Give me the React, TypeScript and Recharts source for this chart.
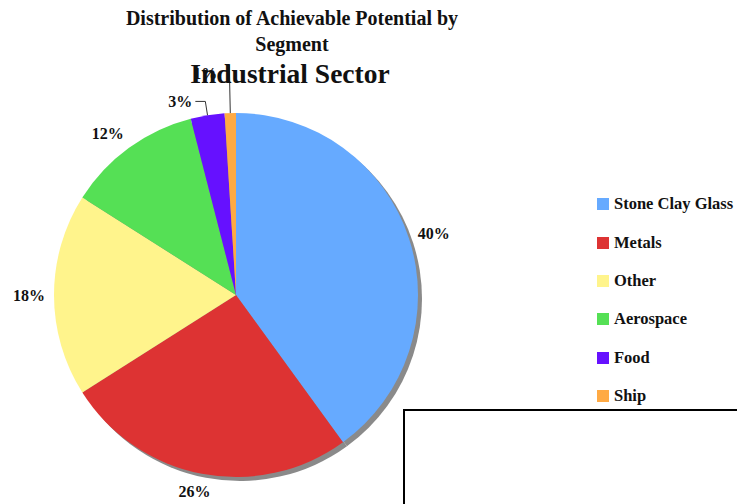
import React from 'react';
import { Cell, Pie, PieChart } from 'recharts';

// Share of achievable potential per segment (percent)
const segments = ['Stone Clay Glass', 'Metals', 'Other', 'Aerospace', 'Food', 'Ship'];
const shares = [40, 26, 18, 12, 3, 1];
const colors = ['#66aaff', '#dd3333', '#fff48c', '#55e055', '#6611ff', '#ffaa44'];

const titleLines = ['Distribution of Achievable Potential by', 'Segment'];
const subtitle = 'Industrial Sector';

const data = segments.map((name, i) => ({ name, value: shares[i] }));

const RADIAN = Math.PI / 180;
const FONT = '"Liberation Serif", "Times New Roman", serif';

function renderLabel(props: any) {
  const { cx, cy, midAngle, outerRadius, percent } = props;
  const cos = Math.cos(-midAngle * RADIAN);
  const sin = Math.sin(-midAngle * RADIAN);
  const text = `${Math.round(percent * 100)}%`;
  const edgeX = cx + outerRadius * cos;
  const edgeY = cy + outerRadius * sin;
  const textProps = { fontFamily: FONT, fontWeight: 'bold', fontSize: 16, fill: '#111', dominantBaseline: 'central' } as any;

  if (percent < 0.02) {
    // tiny slice: long vertical leader, text tucked to the left
    const topY = edgeY - 48;
    return (
      <g>
        <path d={`M${edgeX},${edgeY}L${edgeX - 1},${topY}`} stroke="#333" fill="none" />
        <text x={edgeX - 13} y={topY + 8} textAnchor="end" {...textProps}>{text}</text>
      </g>
    );
  }
  if (percent < 0.05) {
    const r = outerRadius + 14;
    const ex = cx + r * cos;
    const ey = cy + r * sin;
    const hx = ex - 10;
    return (
      <g>
        <path d={`M${edgeX},${edgeY}L${ex},${ey}L${hx},${ey}`} stroke="#333" fill="none" />
        <text x={hx - 3} y={ey} textAnchor="end" {...textProps}>{text}</text>
      </g>
    );
  }

  const r = outerRadius + 9;
  const middle = Math.abs(cos) < 0.25;
  const x = cx + r * cos + (middle ? cos * 30 : 0);
  const y = cy + r * sin + sin * 9;
  const anchor = middle ? 'middle' : cos > 0 ? 'start' : 'end';
  return (
    <text x={x} y={y} textAnchor={anchor} {...textProps}>{text}</text>
  );
}

export default function App() {
  return (
    <div style={{ position: 'absolute', left: 0, top: 0, width: 737, height: 504, overflow: 'hidden', background: '#fff' }}>
      <PieChart width={737} height={504} margin={{ top: 0, right: 0, bottom: 0, left: 0 }}>
        <Pie
          data={data}
          dataKey="value"
          nameKey="name"
          cx={240}
          cy={299}
          outerRadius={182}
          startAngle={90}
          endAngle={-270}
          fill="#8a8a8a"
          stroke="none"
          legendType="none"
          isAnimationActive={false}
        />
        <Pie
          data={data}
          dataKey="value"
          nameKey="name"
          cx={236}
          cy={295}
          outerRadius={182}
          startAngle={90}
          endAngle={-270}
          stroke="none"
          label={renderLabel}
          labelLine={false}
          isAnimationActive={false}
        >
          {data.map((d, i) => (
            <Cell key={d.name} fill={colors[i]} />
          ))}
        </Pie>
      </PieChart>
      <div style={{ position: 'absolute', left: 597, top: 185, width: 140, fontFamily: FONT, fontWeight: 'bold', fontSize: 16.5, color: '#111' }}>
        {segments.map((name, i) => (
          <div key={name} style={{ display: 'flex', alignItems: 'center', height: 38.4, whiteSpace: 'nowrap' }}>
            <span style={{ width: 12, height: 12, background: colors[i], marginRight: 5, flex: 'none' }} />
            {name}
          </div>
        ))}
      </div>
      <div style={{ position: 'absolute', left: 90, top: 5, width: 404, textAlign: 'center', fontFamily: FONT, fontWeight: 'bold', fontSize: 20, lineHeight: '26px', color: '#111' }}>
        {titleLines.map((t) => (
          <div key={t}>{t}</div>
        ))}
      </div>
      <div style={{ position: 'absolute', left: 90, top: 57, width: 400, textAlign: 'center', fontFamily: FONT, fontWeight: 'bold', fontSize: 27.5, lineHeight: '34px', color: '#111' }}>
        {subtitle}
      </div>
      <div style={{ position: 'absolute', left: 403, top: 409, width: 400, height: 200, border: '2px solid #000' }} />
    </div>
  );
}
